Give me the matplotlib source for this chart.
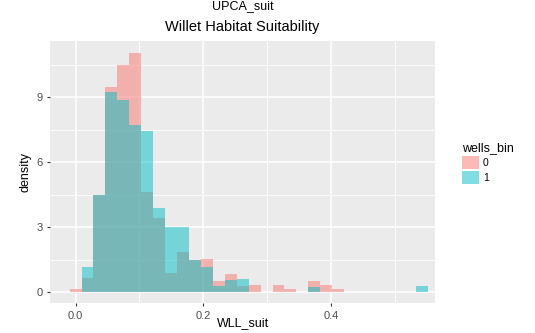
import numpy as np
import matplotlib.pyplot as plt
from matplotlib.patches import Patch

plt.rcParams['font.family'] = ['Liberation Sans', 'DejaVu Sans']

# histogram of WLL_suit by wells_bin (density, 30 bins)
bin_width = 0.0187
bin_centers = np.arange(30) * bin_width
dens_0 = [0.14, 0.68, 4.5, 9.49, 10.5, 11.06, 4.65, 3.45, 0.88, 1.88,
          1.49, 1.55, 0.52, 0.85, 0.29, 0.32, 0.0, 0.32, 0.15, 0.0,
          0.52, 0.34, 0.17, 0.0, 0.0, 0.0, 0.0, 0.0, 0.0, 0.0]
dens_1 = [0.0, 1.18, 4.5, 9.26, 8.9, 7.72, 7.46, 3.88, 3.0, 3.0,
          1.49, 1.18, 0.29, 0.58, 0.6, 0.0, 0.0, 0.0, 0.0, 0.0,
          0.26, 0.0, 0.0, 0.0, 0.0, 0.0, 0.0, 0.0, 0.0, 0.3]
groups = ['0', '1']
colors = ['#F8766D', '#00BFC4']

fig = plt.figure(figsize=(5.35, 3.33), dpi=100)
ax = fig.add_axes([50/535, 1-303/333, 385/535, 262/333])
ax.set_facecolor('#EBEBEB')

for vals, c in zip([dens_0, dens_1], colors):
    ax.bar(bin_centers, vals, width=bin_width, color=c, alpha=0.5, linewidth=0, zorder=3)

ax.set_xlim(-0.040, 0.563)
ax.set_ylim(-0.49, 11.6)
ax.set_xticks([0.0, 0.2, 0.4])
ax.set_xticklabels(['0.0', '0.2', '0.4'])
ax.set_yticks([0, 3, 6, 9])
ax.set_xticks([0.1, 0.3, 0.5], minor=True)
ax.set_yticks([1.5, 4.5, 7.5, 10.5], minor=True)
ax.grid(which='major', color='white', linewidth=1.1, zorder=0)
ax.grid(which='minor', color='white', linewidth=0.55, zorder=0)
ax.set_axisbelow(True)
for s in ax.spines.values():
    s.set_visible(False)
ax.tick_params(which='major', length=2.5, color='#333333', labelcolor='#4D4D4D',
               labelsize=8, pad=3)
ax.tick_params(which='minor', length=0)

ax.set_title('Willet Habitat Suitability', fontsize=10.5, pad=7)
ax.set_ylabel('density', fontsize=9, labelpad=3)
fig.text(243/535, 1.0, 'UPCA_suit', ha='center', va='top', fontsize=9)
fig.text(243/535, 4/333, 'WLL_suit', ha='center', va='bottom', fontsize=9)

handles = [Patch(facecolor=c, alpha=0.5, edgecolor='none') for c in colors]
leg = fig.legend(handles, groups, title='wells_bin', loc='upper left',
                 bbox_to_anchor=(458/535, 1-138/333), frameon=False,
                 fontsize=7.5, title_fontsize=9, handlelength=1.6,
                 handleheight=1.6, handletextpad=0.4, labelspacing=0.15,
                 borderaxespad=0)
leg._legend_box.align = 'left'

fig.savefig('out.png', dpi=100)
